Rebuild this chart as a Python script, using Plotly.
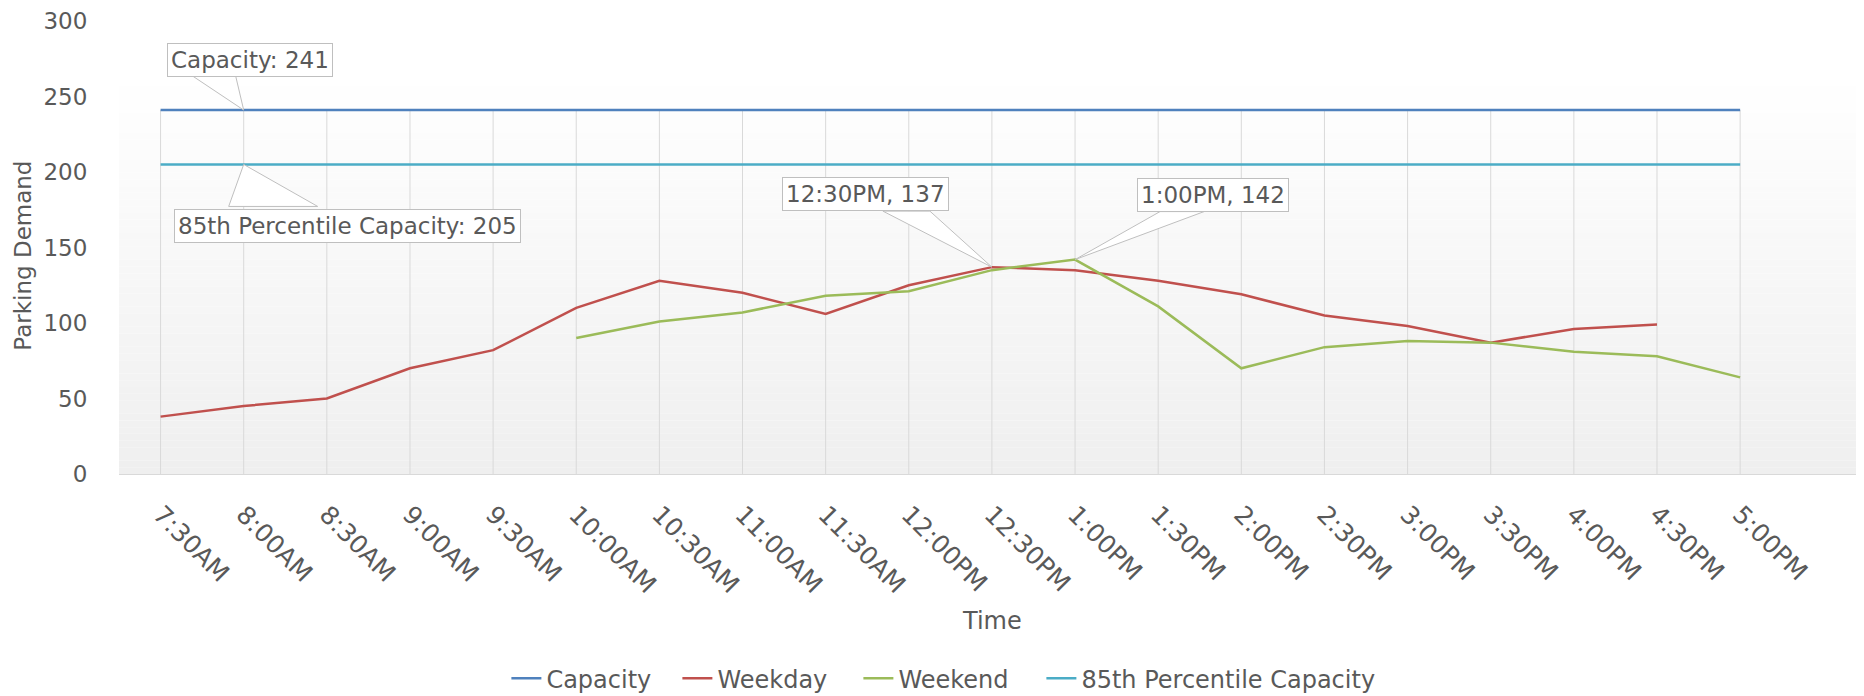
import plotly.graph_objects as go

# ---- data ----
times = ["7:30AM", "8:00AM", "8:30AM", "9:00AM", "9:30AM", "10:00AM", "10:30AM",
         "11:00AM", "11:30AM", "12:00PM", "12:30PM", "1:00PM", "1:30PM", "2:00PM",
         "2:30PM", "3:00PM", "3:30PM", "4:00PM", "4:30PM", "5:00PM"]
capacity = [241] * 20
pct85_capacity = [205] * 20
weekday = [38, 45, 50, 70, 82, 110, 128, 120, 106, 125, 137, 135, 128, 119,
           105, 98, 87, 96, 99, None]
weekend = [None, None, None, None, None, 90, 101, 107, 118, 121, 135, 142, 111, 70,
           84, 88, 87, 81, 78, 64]
y_ticks = [0, 50, 100, 150, 200, 250, 300]

FONT = "DejaVu Sans, sans-serif"
FS = 23
TXT = "#595959"

fig = go.Figure()

series = [
    ("Capacity", capacity, "#4F81BD", 126),
    ("Weekday", weekday, "#C0504D", 136),
    ("Weekend", weekend, "#9BBB59", 138),
    ("85th Percentile Capacity", pct85_capacity, "#4BACC6", None),
]
for name, vals, color, lw in series:
    fig.add_trace(go.Scatter(
        x=times, y=vals, name=name, mode="lines",
        line=dict(color=color, width=2.5),
        connectgaps=False, legendwidth=lw,
    ))

shapes = []

# soft vertical gradient behind the plot (white -> light grey)
n_bands = 60
grad_top = 266
for i in range(n_bands):
    y_hi = grad_top * (1 - i / n_bands)
    y_lo = grad_top * (1 - (i + 1) / n_bands)
    g = round(255 - (255 - 239) * (i + 0.5) / n_bands)
    shapes.append(dict(type="rect", xref="paper", yref="y", x0=0, x1=1,
                       y0=y_lo, y1=y_hi, line=dict(width=0),
                       fillcolor=f"rgb({g},{g},{g})", layer="below"))

# drop lines: from the axis up to the highest series value at each time
for i, t in enumerate(times):
    top = max(s[1][i] for s in series if s[1][i] is not None)
    shapes.append(dict(type="line", xref="x", yref="y", x0=t, x1=t, y0=0, y1=top,
                       line=dict(color="#d9d9d9", width=1), layer="below"))


def callout(x, y, text, xshift, yshift, base):
    """label box + wedge pointing at (x, y); base = pixel offsets of the wedge foot"""
    (bx0, by0), (bx1, by1) = base
    shapes.append(dict(
        type="path", xref="x", yref="y", xsizemode="pixel", ysizemode="pixel",
        xanchor=x, yanchor=y,
        path=f"M 0 0 L {bx0} {by0} L {bx1} {by1} Z",
        fillcolor="white", line=dict(color="#bfbfbf", width=1), layer="above",
    ))
    fig.add_annotation(
        x=x, y=y, xref="x", yref="y", text=text, showarrow=False,
        xshift=xshift, yshift=yshift, xanchor="center", yanchor="middle",
        bgcolor="white", bordercolor="#bfbfbf", borderwidth=1, borderpad=3,
        font=dict(family=FONT, size=FS, color=TXT),
    )


callout("8:00AM", capacity[1], "Capacity: 241", 6, 50, ((-51, 34), (-8, 34)))
callout("8:00AM", pct85_capacity[1], "85th Percentile Capacity: 205", 104, -62,
        ((-15, -42), (74, -42)))
callout("12:30PM", weekday[10], "12:30PM, 137", -126, 73, ((-109, 56), (-62, 56)))
callout("1:00PM", weekend[11], "1:00PM, 142", 138, 65, ((85, 48), (129, 48)))

# axis titles
fig.add_annotation(text="Time", xref="paper", yref="paper", x=0.5, y=-0.3245,
                   xanchor="center", yanchor="middle",
                   showarrow=False, font=dict(family=FONT, size=24, color=TXT))
fig.add_annotation(text="Parking Demand", xref="paper", yref="paper", x=-0.0547,
                   y=0.481, xanchor="center", yanchor="middle", textangle=-90,
                   showarrow=False, font=dict(family=FONT, size=FS, color=TXT))

# the page puts the figure 8px in from the window corner, so size it to fit
fig.update_layout(
    width=1856, height=688,
    margin=dict(l=111, r=0, t=13, b=222, autoexpand=False),
    paper_bgcolor="white", plot_bgcolor="white",
    shapes=shapes,
    font=dict(family=FONT, size=FS, color=TXT),
    showlegend=True,
    legend=dict(orientation="h", x=0.222, xanchor="left", y=-0.452,
                yanchor="middle", font=dict(family=FONT, size=24, color=TXT),
                itemwidth=30, tracegroupgap=0, bgcolor="rgba(0,0,0,0)"),
    xaxis=dict(
        type="category", range=[-0.5, 20.49], showgrid=False, automargin=False,
        showline=True, linecolor="#d9d9d9", linewidth=1,
        tickangle=45, ticks="outside", ticklen=15, tickcolor="rgba(0,0,0,0)",
        tickfont=dict(family=FONT, size=25, color=TXT), zeroline=False,
    ),
    yaxis=dict(
        range=[0, 300], tickvals=y_ticks, showgrid=False, zeroline=False,
        automargin=False,
        showline=False, ticks="outside", ticklen=26, tickcolor="rgba(0,0,0,0)",
        tickfont=dict(family=FONT, size=23, color=TXT),
    ),
)

fig.write_html("out.html")
